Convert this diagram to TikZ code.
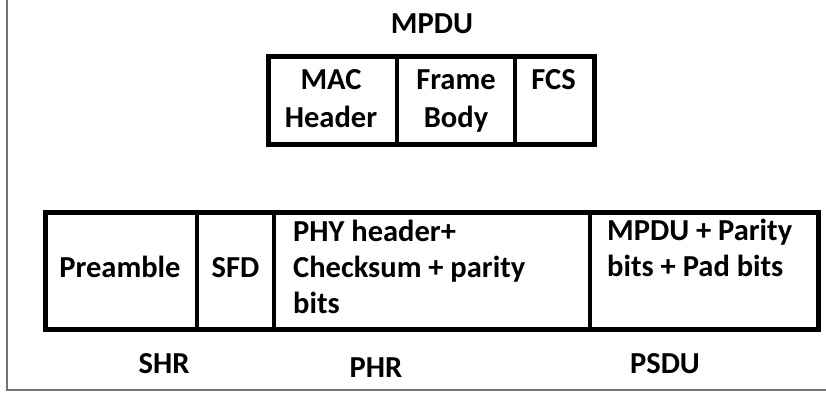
\documentclass[tikz,border=0pt]{standalone}
\usepackage{fontspec}
\setmainfont{Carlito}
\begin{document}
\begin{tikzpicture}[x=1pt,y=-1pt,
  lbl/.style={font=\fontsize{30.5}{36}\selectfont\bfseries, inner sep=0pt, anchor=base},
  lbll/.style={lbl, anchor=base west},
  boxframe/.style={draw, line width=5pt, inner sep=0pt},
  divider/.style={line width=4pt},
  frameline/.style={draw=black!55, line width=2pt}]
\useasboundingbox (0,0) rectangle (826,397);
\fill[white] (0,0) rectangle (826,397);
% outer frame
\coordinate (fTop) at (7,-2);
\coordinate (fCorner) at (7,390);
\coordinate (fRight) at (828,390);
\draw[frameline] (fTop) -- (fCorner) -- (fRight);

% MPDU box
\node[boxframe, minimum width=326pt, minimum height=88pt, anchor=north west] (mpdubox) at (266,54) {};
\coordinate (d1t) at (397,54);  \coordinate (d1b) at (397,142);
\coordinate (d2t) at (515,54);  \coordinate (d2b) at (515,142);
\draw[divider] (d1t) -- (d1b);
\draw[divider] (d2t) -- (d2b);
\node[lbl] (mpdu) at (432,33) {MPDU};
\node[lbl] (mac1) at (331,89) {MAC};
\node[lbl] (mac2) at (331,127) {Header};
\node[lbl] (fb1) at (456,89) {Frame};
\node[lbl] (fb2) at (456,127) {Body};
\node[lbl] (fcs) at (553.5,89) {FCS};

% PPDU box
\node[boxframe, minimum width=773pt, minimum height=117pt, anchor=north west] (ppdubox) at (43,210) {};
\coordinate (e1t) at (197,210); \coordinate (e1b) at (197,327);
\coordinate (e2t) at (274,210); \coordinate (e2b) at (274,327);
\coordinate (e3t) at (590,210); \coordinate (e3b) at (590,327);
\draw[divider] (e1t) -- (e1b);
\draw[divider] (e2t) -- (e2b);
\draw[divider] (e3t) -- (e3b);
\node[lbl] (pre) at (120,277) {Preamble};
\node[lbl] (sfd) at (235.5,277) {SFD};
\node[lbll] (phy1) at (293,241) {PHY header+};
\node[lbll] (phy2) at (293,277) {Checksum + parity};
\node[lbll] (phy3) at (293,313) {bits};
\node[lbll] (ps1) at (607,240) {MPDU + Parity};
\node[lbll] (ps2) at (607,276) {bits + Pad bits};

% bottom labels
\node[lbl] (shr) at (164,373) {SHR};
\node[lbl] (phr) at (376,377) {PHR};
\node[lbl] (psdu) at (665,373) {PSDU};
\end{tikzpicture}
\end{document}
